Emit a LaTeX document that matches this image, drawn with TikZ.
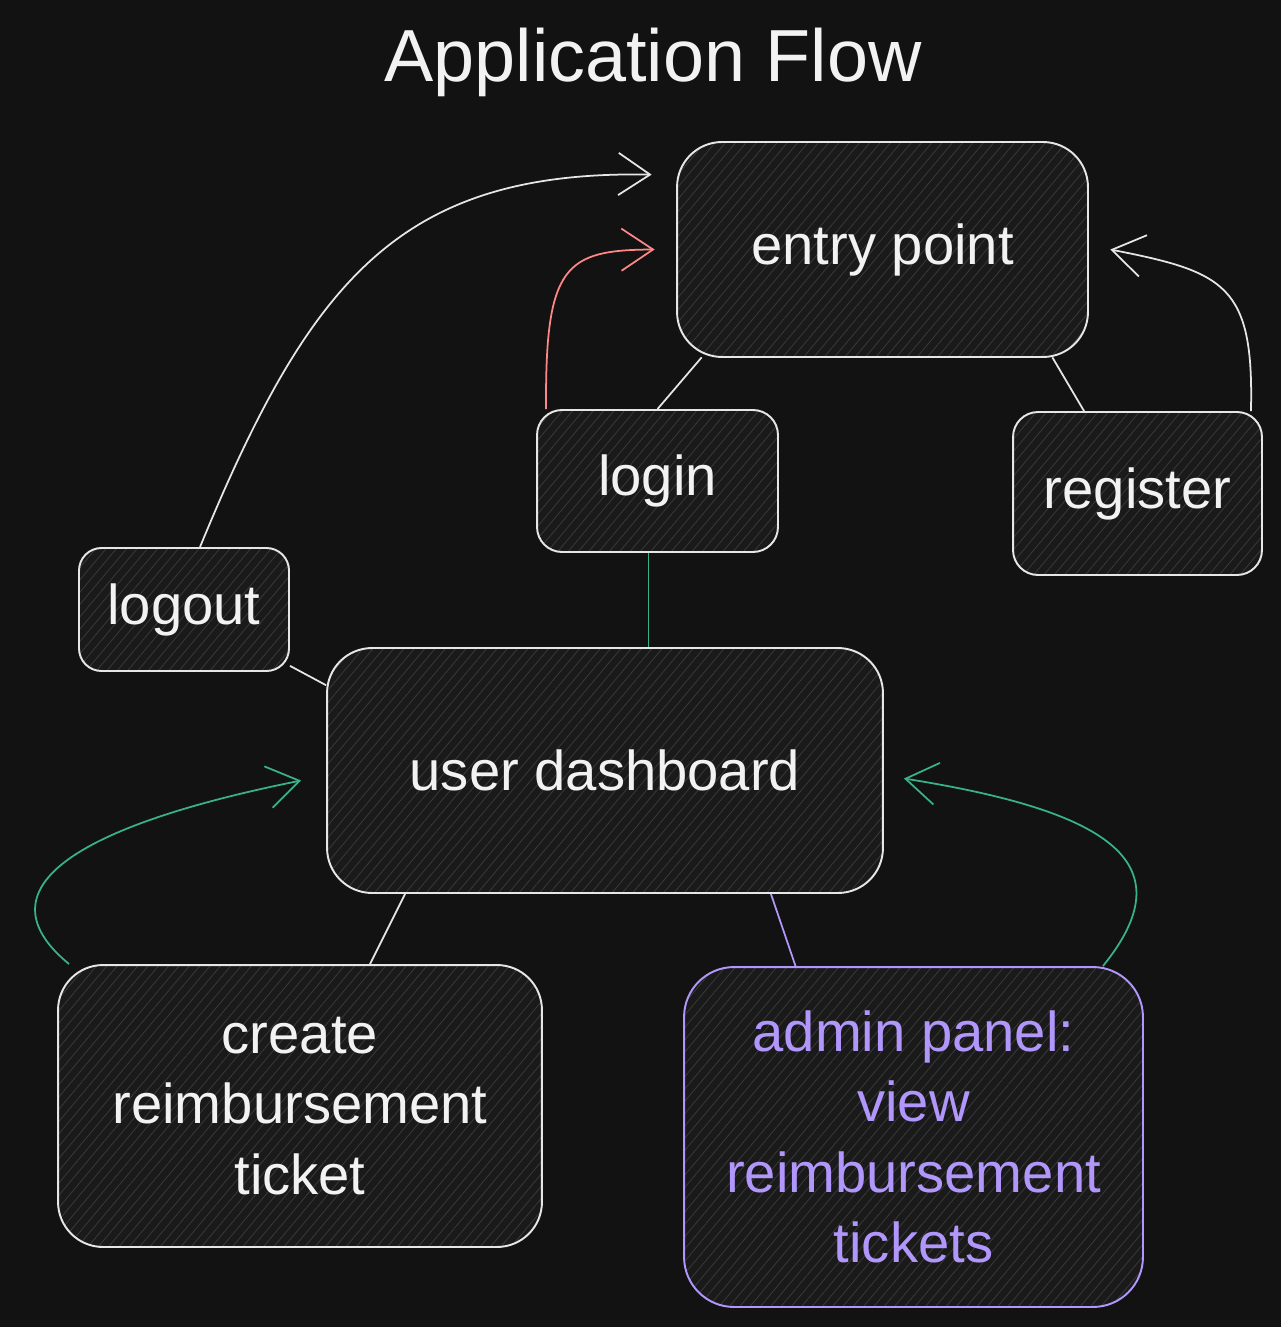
\documentclass[tikz,border=0pt]{standalone}
\usepackage{fontspec}
\setmainfont{Liberation Sans}
\usetikzlibrary{arrows.meta,patterns.meta}

\definecolor{bgcol}{HTML}{121212}
\definecolor{boxfill}{HTML}{1A1A1A}
\definecolor{hatchcol}{HTML}{3A3A3A}
\definecolor{edgecol}{HTML}{E6E6E6}
\definecolor{inkcol}{HTML}{F2F2F2}
\definecolor{redcol}{HTML}{FF8787}
\definecolor{greencol}{RGB}{56,178,139}
\definecolor{purplecol}{HTML}{B197FC}

\tikzset{
  box/.style={draw=edgecol, line width=1.1pt, rounded corners=#1,
    preaction={fill=boxfill},
    pattern={Lines[angle=50,distance=4.5pt,line width=0.45pt]}, pattern color=hatchcol,
    text=inkcol, align=center, inner sep=0pt,
    font=\fontsize{32}{40}\selectfont},
  box/.default=0.9cm,
  link/.style={draw=edgecol, line width=1pt},
  flow/.style={line width=1pt, -{Straight Barb[length=18pt,width=24pt,line width=1pt]}},
}

\def\flowbox(#1,#2,#3,#4,#5,#6,#7){
  \node[box=#6, minimum width=#4cm, minimum height=#5cm] (#1) at (#2,#3) {#7};
}

\begin{document}
\begin{tikzpicture}[x=0.02cm, y=-0.02cm]
\fill[bgcol] (0,0) rectangle (1281,1327);
\useasboundingbox (0,0) rectangle (1281,1327);
\node[text=inkcol, font=\fontsize{42}{50}\selectfont] (title) at (653,62) {Application Flow};
\flowbox(entry,882.5,249.5,8.22,4.3,0.9cm,entry point)
\flowbox(login,657.5,481,4.82,2.84,0.5cm,login)
\flowbox(register,1137.5,493.5,4.98,3.26,0.5cm,register)
\flowbox(logout,184,609.5,4.2,2.46,0.45cm,logout)
\flowbox(dash,605,770.5,11.12,4.9,0.9cm,user dashboard)
\flowbox(create,300,1106,9.68,5.64,0.9cm,create\\reimbursement\\ticket)
\node[box=1cm, draw=purplecol, text=purplecol, minimum width=9.18cm, minimum height=6.8cm] (admin) at (913.5,1137) {admin panel:\\view\\reimbursement\\tickets};
\draw[link] ([xshift=0.5cm]entry.south west) -- (login.north);
\draw[link] ([xshift=-0.72cm]entry.south east) -- ([xshift=1.44cm]register.north west);
\draw[link, draw=greencol] ([xshift=-0.18cm]login.south) -- ([xshift=-0.18cm]login.south |- dash.north);
\draw[link] (logout.-28) -- (dash.163);
\draw[link] ([xshift=1.58cm]dash.south west) -- ([xshift=1.4cm]create.north);
\draw[link, draw=purplecol] ([xshift=-2.26cm]dash.south east) -- ([xshift=-2.36cm]admin.north);
\draw[flow, edgecol] ([xshift=0.32cm]logout.north) .. controls (310,280) and (400,170) .. ([xshift=-0.5cm,yshift=-0.66cm]entry.north west);
\draw[flow, redcol] ([xshift=0.2cm]login.north west) .. controls (545,265) and (565,250) .. ([xshift=-0.44cm]entry.west);
\draw[flow, edgecol] ([xshift=-0.24cm]register.north east) .. controls (1254,285) and (1225,272) .. ([xshift=0.44cm]entry.east);
\draw[flow, greencol] ([xshift=0.24cm]create.north west) .. controls (-15,895) and (55,830) .. ([xshift=-0.5cm,yshift=-0.2cm]dash.west);
\draw[flow, greencol] ([xshift=-0.82cm]admin.north east) .. controls (1185,865) and (1115,812) .. ([xshift=0.4cm,yshift=-0.16cm]dash.east);
\end{tikzpicture}
\end{document}
